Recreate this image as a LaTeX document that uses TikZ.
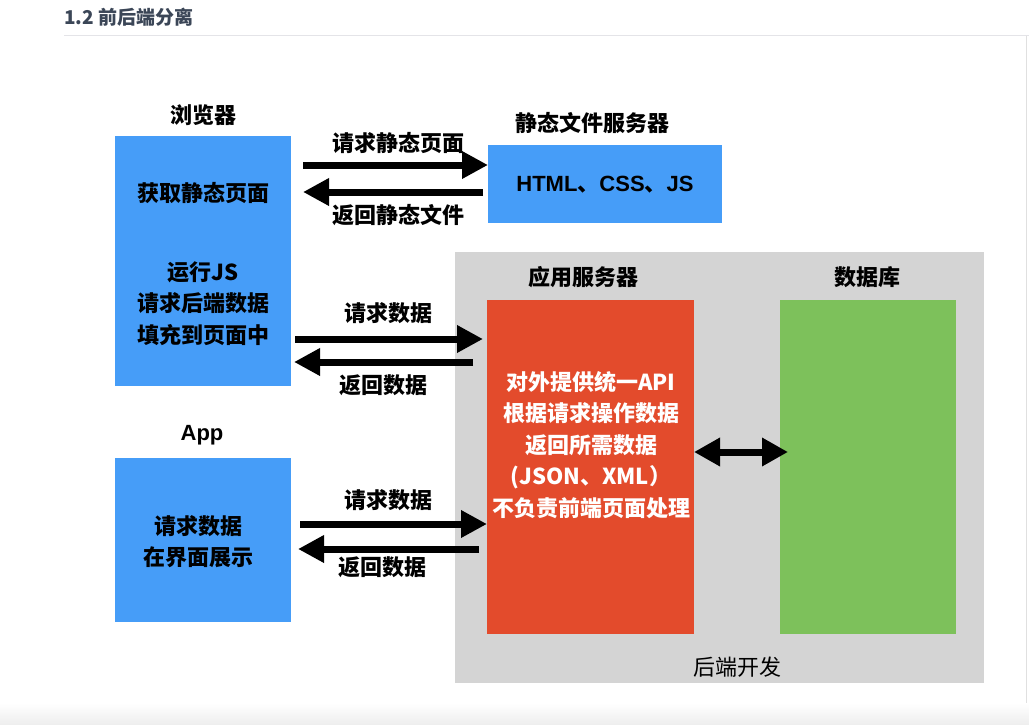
\documentclass[tikz,border=0pt]{standalone}
\usepackage{fontspec}
\usetikzlibrary{arrows.meta}
\newfontfamily\cjk{Noto Sans CJK SC}
\newfontfamily\lat{Liberation Sans}
\definecolor{bblue}{HTML}{469DF8}
\definecolor{rred}{HTML}{E34B2C}
\definecolor{ggreen}{HTML}{7DC15B}
\definecolor{ggray}{HTML}{D4D4D4}
\definecolor{hdr}{HTML}{3B4657}
\definecolor{rule}{HTML}{E4E4E8}
\begin{document}
\begin{tikzpicture}[x=1pt,y=-1pt,
  box/.style={draw=none,inner sep=0pt,outer sep=0pt,anchor=north west},
  txt/.style={inner sep=0pt,align=center,font=\cjk\bfseries\fontsize{22}{31.5}\selectfont},
  arr/.style={line width=7pt,-{Triangle[length=26pt,width=26pt]}},
  darr/.style={line width=7pt,{Triangle[length=26pt,width=27pt]}-{Triangle[length=26pt,width=27pt]}}]
\useasboundingbox (0,0) rectangle (1029,725);
\fill[white] (0,0) rectangle (1029,725);
\shade[top color=white,bottom color=black!7] (0,703) rectangle (1029,725);
% header
\node[anchor=west,inner sep=0pt,text=hdr,font=\cjk\bfseries\fontsize{19}{19}\selectfont] (title) at (64,17) {1.2 前后端分离};
\draw[rule,line width=1pt] (64,35.5) -- (1029,35.5);
\draw[black!12,line width=1pt] (1026,36) -- (1026,703);
% boxes
\node[box,fill=bblue,minimum width=176pt,minimum height=250pt] (browser) at (115,136) {};
\node[box,fill=bblue,minimum width=176pt,minimum height=164pt] (app) at (115,458) {};
\node[box,fill=bblue,minimum width=234pt,minimum height=78pt] (static) at (488,145) {};
\node[box,fill=ggray,minimum width=529pt,minimum height=431pt] (backend) at (455,252) {};
\node[box,fill=rred,minimum width=207pt,minimum height=334pt] (appsrv) at (487,300) {};
\node[box,fill=ggreen,minimum width=176pt,minimum height=334pt] (db) at (780,300) {};
% labels
\node[txt] (lbrowser) at (203,115) {浏览器};
\node[txt] at (203,193) {获取静态页面};
\node[txt] at (203,303.5) {运行JS\\请求后端数据\\填充到页面中};
\node[txt,font=\lat\bfseries\fontsize{22}{22}\selectfont] (lapp) at (202,435) {App};
\node[txt] at (198,541.5) {请求数据\\在界面展示};
\node[txt] (lstatic) at (592,123) {静态文件服务器};
\node[txt] at (605,185) {\lat HTML\cjk 、\lat CSS\cjk 、\lat JS};
\node[txt] (lappsrv) at (583,277) {应用服务器};
\node[txt] (ldb) at (867,277) {数据库};
\node[txt,text=white] at (591,445) {对外提供统一API\\根据请求操作数据\\返回所需数据\\(JSON、XML）\\不负责前端页面处理};
\node[txt,font=\cjk\fontsize{22}{22}\selectfont] (lback) at (737,667) {后端开发};
% arrows: browser <-> static
\coordinate (a1s) at (303,165);
\coordinate (a1r) at (483,192);
\coordinate (a1e) at (303,192);
\draw[arr] (a1s) -- (static.west |- a1s);
\draw[arr] (a1r) -- (a1e);
\node[txt] at (398,143) {请求静态页面};
\node[txt] at (398,215) {返回静态文件};
% browser <-> app server
\coordinate (a2s) at (295,339);
\coordinate (a2t) at (483,339);
\coordinate (a2r) at (473,362);
\coordinate (a2e) at (294,362);
\draw[arr] (a2s) -- (a2t);
\draw[arr] (a2r) -- (a2e);
\node[txt] at (388,313) {请求数据};
\node[txt] at (383,385) {返回数据};
% app <-> app server
\coordinate (a3s) at (300,524);
\coordinate (a3r) at (479,549);
\coordinate (a3e) at (298,549);
\draw[arr] (a3s) -- (appsrv.west |- a3s);
\draw[arr] (a3r) -- (a3e);
\node[txt] at (388,500) {请求数据};
\node[txt] at (382,567) {返回数据};
% app server <-> db
\coordinate (dbl) at (788,452);
\draw[darr] (appsrv.east |- dbl) -- (dbl);
\end{tikzpicture}
\end{document}
